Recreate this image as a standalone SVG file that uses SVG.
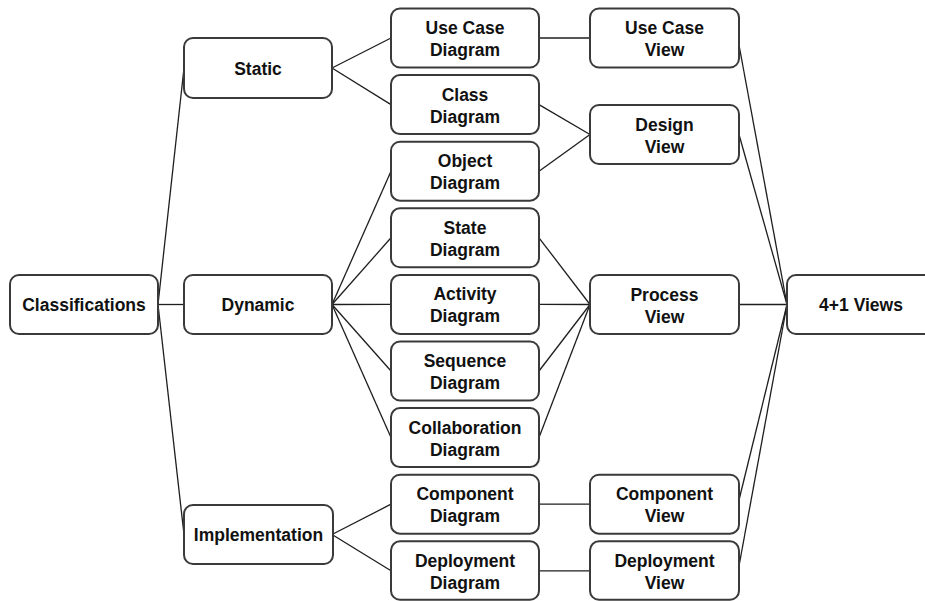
<svg xmlns="http://www.w3.org/2000/svg" width="925" height="601" viewBox="0 0 925 601">
<style>
.b{fill:#fff;stroke:#3a3a3a;stroke-width:2}
.t{font-family:"Liberation Sans",Arial,sans-serif;font-weight:bold;font-size:17.5px;fill:#111;text-anchor:middle}
.c line{stroke:#1e1e1e;stroke-width:1.3}
</style>
<rect width="925" height="601" fill="#fff"/>
<g class="c" id="connectors">
<line x1="158" y1="304.5" x2="184" y2="68"/>
<line x1="158" y1="304.5" x2="184" y2="304.5"/>
<line x1="158" y1="304.5" x2="184" y2="534.5"/>
<line x1="332" y1="68" x2="391" y2="38"/>
<line x1="332" y1="68" x2="391" y2="104.6"/>
<line x1="332" y1="304.5" x2="391" y2="171.2"/>
<line x1="332" y1="304.5" x2="391" y2="237.8"/>
<line x1="332" y1="304.5" x2="391" y2="304.4"/>
<line x1="332" y1="304.5" x2="391" y2="371"/>
<line x1="332" y1="304.5" x2="391" y2="437.6"/>
<line x1="332" y1="534.5" x2="391" y2="504.2"/>
<line x1="332" y1="534.5" x2="391" y2="570.8"/>
<line x1="539" y1="38" x2="590" y2="38"/>
<line x1="539" y1="104.6" x2="590" y2="134.5"/>
<line x1="539" y1="171.2" x2="590" y2="134.5"/>
<line x1="539" y1="237.8" x2="590" y2="304.5"/>
<line x1="539" y1="304.4" x2="590" y2="304.5"/>
<line x1="539" y1="371" x2="590" y2="304.5"/>
<line x1="539" y1="437.6" x2="590" y2="304.5"/>
<line x1="539" y1="504.2" x2="590" y2="504.2"/>
<line x1="539" y1="570.8" x2="590" y2="570.8"/>
<line x1="739" y1="45" x2="787" y2="304.5"/>
<line x1="739" y1="134.5" x2="787" y2="304.5"/>
<line x1="739" y1="304.5" x2="787" y2="304.5"/>
<line x1="739" y1="500" x2="787" y2="304.5"/>
<line x1="739" y1="566" x2="787" y2="304.5"/>
</g>
<g id="classifications"><rect class="b" x="10" y="275" width="148" height="59" rx="9"/><text class="t" x="84" y="311">Classifications</text></g>
<g id="static"><rect class="b" x="184" y="38" width="148" height="60" rx="9"/><text class="t" x="258" y="74.5">Static</text></g>
<g id="dynamic"><rect class="b" x="184" y="275" width="148" height="59" rx="9"/><text class="t" x="258" y="311">Dynamic</text></g>
<g id="implementation"><rect class="b" x="184" y="505" width="149" height="59" rx="9"/><text class="t" x="258.5" y="541">Implementation</text></g>
<g id="usecase-diagram"><rect class="b" x="391" y="8.5" width="148" height="59" rx="9"/><text class="t" x="465" y="34">Use Case</text><text class="t" x="465" y="56">Diagram</text></g>
<g id="class-diagram"><rect class="b" x="391" y="75.1" width="148" height="59" rx="9"/><text class="t" x="465" y="100.6">Class</text><text class="t" x="465" y="122.6">Diagram</text></g>
<g id="object-diagram"><rect class="b" x="391" y="141.7" width="148" height="59" rx="9"/><text class="t" x="465" y="167.2">Object</text><text class="t" x="465" y="189.2">Diagram</text></g>
<g id="state-diagram"><rect class="b" x="391" y="208.3" width="148" height="59" rx="9"/><text class="t" x="465" y="233.8">State</text><text class="t" x="465" y="255.8">Diagram</text></g>
<g id="activity-diagram"><rect class="b" x="391" y="274.9" width="148" height="59" rx="9"/><text class="t" x="465" y="300.4">Activity</text><text class="t" x="465" y="322.4">Diagram</text></g>
<g id="sequence-diagram"><rect class="b" x="391" y="341.5" width="148" height="59" rx="9"/><text class="t" x="465" y="367">Sequence</text><text class="t" x="465" y="389">Diagram</text></g>
<g id="collaboration-diagram"><rect class="b" x="391" y="408.1" width="148" height="59" rx="9"/><text class="t" x="465" y="433.6">Collaboration</text><text class="t" x="465" y="455.6">Diagram</text></g>
<g id="component-diagram"><rect class="b" x="391" y="474.7" width="148" height="59" rx="9"/><text class="t" x="465" y="500.2">Component</text><text class="t" x="465" y="522.2">Diagram</text></g>
<g id="deployment-diagram"><rect class="b" x="391" y="541.3" width="148" height="58.5" rx="9"/><text class="t" x="465" y="566.8">Deployment</text><text class="t" x="465" y="588.8">Diagram</text></g>
<g id="usecase-view"><rect class="b" x="590" y="8.5" width="149" height="59" rx="9"/><text class="t" x="664.5" y="34">Use Case</text><text class="t" x="664.5" y="56">View</text></g>
<g id="design-view"><rect class="b" x="590" y="105" width="149" height="59" rx="9"/><text class="t" x="664.5" y="130.5">Design</text><text class="t" x="664.5" y="152.5">View</text></g>
<g id="process-view"><rect class="b" x="590" y="275" width="149" height="59" rx="9"/><text class="t" x="664.5" y="300.5">Process</text><text class="t" x="664.5" y="322.5">View</text></g>
<g id="component-view"><rect class="b" x="590" y="474.7" width="149" height="59" rx="9"/><text class="t" x="664.5" y="500.2">Component</text><text class="t" x="664.5" y="522.2">View</text></g>
<g id="deployment-view"><rect class="b" x="590" y="541.3" width="149" height="58.5" rx="9"/><text class="t" x="664.5" y="566.8">Deployment</text><text class="t" x="664.5" y="588.8">View</text></g>
<g id="views-4plus1"><rect class="b" x="787" y="275" width="148" height="59" rx="9"/><text class="t" x="861" y="311">4+1 Views</text></g>
</svg>
